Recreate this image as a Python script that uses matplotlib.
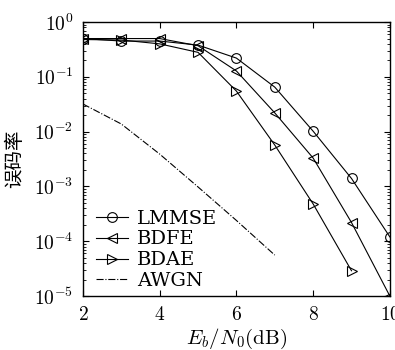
import matplotlib
matplotlib.use("Agg")
from matplotlib import pyplot as plt
from matplotlib.ticker import LogLocator, FixedLocator

plt.rcParams['mathtext.fontset'] = 'cm'
plt.rcParams['font.family'] = ['DejaVu Serif']

# 数据
snr = [2, 3, 4, 5, 6, 7, 8, 9, 10]
ber_lmmse = [0.5, 0.45, 0.45, 0.38, 0.22, 0.065, 0.0102, 0.0014, 1.2e-4]
ber_bdfe = [0.5, 0.5, 0.5, 0.37, 0.128, 0.022, 0.0033, 2.2e-4, 1e-5]
snr_bdae = [2, 3, 4, 5, 6, 7, 8, 9]
ber_bdae = [0.48, 0.47, 0.40, 0.28, 0.055, 0.0057, 4.8e-4, 2.9e-5]
snr_awgn = [2, 3, 4, 5, 6, 7]
ber_awgn = [0.032, 0.0138, 0.0039, 9.8e-4, 2.4e-4, 5.6e-5]

xticks = [2, 4, 6, 8, 10]
ytick_vals = [1e0, 1e-1, 1e-2, 1e-3, 1e-4, 1e-5]
ytick_text = [r'$10^{0}$', r'$10^{-1}$', r'$10^{-2}$', r'$10^{-3}$',
              r'$10^{-4}$', r'$10^{-5}$']

fig = plt.figure(figsize=(3.95, 3.5), dpi=100)
ax = fig.add_axes([0.210, 0.154, 0.777, 0.783])

lw = 0.8
ms = 7
ax.semilogy(snr, ber_lmmse, 'k-', marker='o', mfc='none', lw=lw, ms=ms,
            mew=0.8, label='LMMSE')
ax.semilogy(snr, ber_bdfe, 'k-', marker='<', mfc='none', lw=lw, ms=ms,
            mew=0.8, label='BDFE')
ax.semilogy(snr_bdae, ber_bdae, 'k-', marker='>', mfc='none', lw=lw, ms=ms,
            mew=0.8, label='BDAE')
ax.semilogy(snr_awgn, ber_awgn, 'k-.', lw=lw, label='AWGN')

ax.set_xlim(2, 10)
ax.set_ylim(1e-5, 1e0)
ax.xaxis.set_major_locator(FixedLocator(xticks))
ax.set_xticklabels([r'$%d$' % t for t in xticks], fontsize=14)
ax.yaxis.set_major_locator(FixedLocator(ytick_vals))
ax.set_yticklabels(ytick_text, fontsize=14)
ax.yaxis.set_minor_locator(LogLocator(base=10, subs=range(2, 10), numticks=20))
ax.yaxis.set_minor_formatter(plt.NullFormatter())

ax.tick_params(which='both', direction='in', top=True, right=True)
ax.tick_params(which='major', length=4, width=0.8, pad=7)
ax.tick_params(which='minor', length=2, width=0.6)
for s in ax.spines.values():
    s.set_linewidth(1.0)

ax.set_xlabel(r'$E_b/N_0(\mathrm{dB})$', fontsize=15, labelpad=2)
ax.set_ylabel('误码率', fontsize=14, family=['Noto Sans CJK SC', 'DejaVu Sans'],
              labelpad=6)

leg = ax.legend(loc='lower left', bbox_to_anchor=(0.025, 0.0), frameon=False,
                handlelength=1.6, handletextpad=0.5, borderaxespad=0.2,
                borderpad=0.1, labelspacing=0.15,
                prop={'family': 'DejaVu Serif', 'size': 14})

fig.savefig('out.png', dpi=100)
